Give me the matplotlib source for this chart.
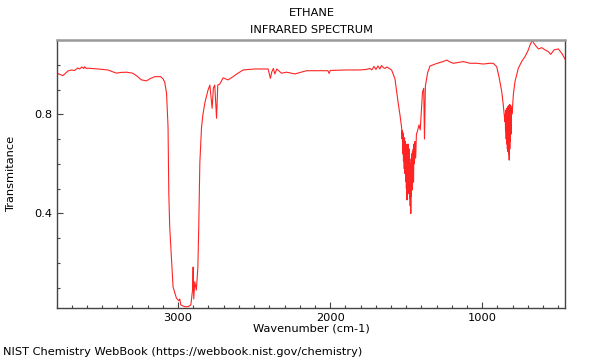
import matplotlib
matplotlib.use("Agg")
import matplotlib.pyplot as plt
from matplotlib.ticker import MultipleLocator

# ethane IR spectrum
wavenumber = [3796, 3757, 3724, 3699, 3680, 3660, 3647, 3633, 3620, 3614, 3604, 3592,
              3526, 3462, 3405, 3377, 3339, 3298, 3272, 3241, 3208, 3186, 3153, 3114,
              3099, 3088, 3076, 3066, 3061, 3055, 3043, 3033, 3011, 2995, 2989, 2982,
              2956, 2934, 2916, 2905, 2901, 2897, 2890, 2880, 2870, 2864, 2857, 2846,
              2837, 2824, 2803, 2791, 2776, 2768, 2759, 2747, 2739, 2726, 2704, 2671,
              2638, 2614, 2572, 2495, 2408, 2393, 2384, 2374, 2364, 2351, 2320, 2287,
              2232, 2155, 2015, 2007, 1999, 1892, 1805, 1765, 1739, 1726, 1712, 1699,
              1686, 1673, 1663, 1651, 1640, 1627, 1596, 1574, 1553, 1541, 1530,
              1527, 1525, 1523, 1521, 1518, 1516, 1513, 1511, 1508, 1506, 1504, 1502,
              1499, 1497, 1495, 1493, 1490, 1488, 1486, 1484, 1482, 1480, 1478, 1476,
              1474, 1472, 1470, 1468, 1466, 1464, 1461, 1459, 1456, 1454, 1452, 1449,
              1446, 1443, 1438, 1433,
              1428, 1416, 1408, 1400, 1393, 1385, 1380, 1374, 1360, 1344, 1300, 1257,
              1234, 1212, 1191, 1160, 1125, 1081, 1037, 993, 949, 928, 905, 888,
              872, 862, 851,
              849, 847, 845, 843, 841, 839, 837, 835, 833, 831, 829, 827,
              825, 823, 821, 819, 817, 815, 813, 811, 809, 806,
              803, 796, 785, 763, 741, 719, 697, 686, 676, 671, 666, 653,
              631, 609, 587, 566, 550, 528, 500, 477, 456]
transmittance = [0.966, 0.956, 0.975, 0.979, 0.977, 0.987, 0.983, 0.991, 0.985, 0.992, 0.985, 0.986,
                 0.983, 0.979, 0.966, 0.969, 0.970, 0.966, 0.955, 0.939, 0.935, 0.943, 0.952, 0.952,
                 0.943, 0.930, 0.886, 0.750, 0.482, 0.346, 0.211, 0.103, 0.058, 0.047, 0.054, 0.030,
                 0.023, 0.023, 0.030, 0.090, 0.183, 0.054, 0.124, 0.090, 0.179, 0.346, 0.603, 0.745,
                 0.797, 0.846, 0.898, 0.918, 0.824, 0.906, 0.918, 0.784, 0.918, 0.922, 0.947, 0.939,
                 0.952, 0.963, 0.979, 0.983, 0.983, 0.945, 0.971, 0.985, 0.963, 0.983, 0.966, 0.970,
                 0.963, 0.976, 0.976, 0.965, 0.977, 0.979, 0.979, 0.981, 0.985, 0.979, 0.993, 0.981,
                 0.995, 0.983, 0.997, 0.989, 0.985, 0.991, 0.979, 0.943, 0.846, 0.797, 0.745,
                 0.700, 0.735, 0.640, 0.725, 0.610, 0.700, 0.580, 0.705, 0.560, 0.690, 0.530, 0.680,
                 0.500, 0.670, 0.454, 0.650, 0.520, 0.680, 0.480, 0.640, 0.500, 0.660, 0.460, 0.620,
                 0.430, 0.600, 0.399, 0.560, 0.470, 0.640, 0.494, 0.650, 0.540, 0.660, 0.526, 0.680,
                 0.600, 0.690, 0.623, 0.720,
                 0.728, 0.757, 0.737, 0.817, 0.890, 0.905, 0.700, 0.914, 0.966, 0.995, 1.005, 1.013,
                 1.019, 1.011, 1.006, 1.009, 1.013, 1.006, 1.006, 1.003, 1.006, 1.006, 0.992, 0.945,
                 0.891, 0.838, 0.770,
                 0.800, 0.730, 0.815, 0.700, 0.820, 0.680, 0.825, 0.660, 0.830, 0.649, 0.830, 0.640,
                 0.835, 0.615, 0.840, 0.660, 0.838, 0.690, 0.835, 0.720, 0.829, 0.800,
                 0.809, 0.878, 0.932, 0.986, 1.013, 1.033, 1.060, 1.080, 1.092, 1.108, 1.092, 1.080,
                 1.064, 1.069, 1.060, 1.053, 1.042, 1.060, 1.064, 1.046, 1.023]

fig = plt.figure(figsize=(6, 3.6), dpi=100)
ax = fig.add_axes([0.095, 0.1453, 0.8467, 0.7436])

ax.plot(wavenumber, transmittance, color='#ff2424', lw=0.8)
ax.set_xlim(3796, 456)
ax.set_ylim(0.019, 1.10)

ax.xaxis.set_major_locator(MultipleLocator(1000))
ax.xaxis.set_minor_locator(MultipleLocator(100))
ax.yaxis.set_major_locator(MultipleLocator(0.4))
ax.yaxis.set_minor_locator(MultipleLocator(0.1))
ax.tick_params(which='both', direction='in', top=False, right=False,
               color='#444444', labelsize=8.2)
ax.tick_params(which='major', length=4.5, width=0.8)
ax.tick_params(which='minor', length=2, width=0.8)

for side in ['left', 'right', 'bottom']:
    ax.spines[side].set_color('#444444')
    ax.spines[side].set_linewidth(1)
ax.spines['top'].set_color('#999999')
ax.spines['top'].set_linewidth(1.8)

ax.set_xlabel("Wavenumber (cm-1)", fontsize=8.2, labelpad=1)
ax.set_ylabel("Transmitance", fontsize=8.2, labelpad=13)

fig.text(0.519, 0.963, "ETHANE", ha='center', va='center', fontsize=8.2)
fig.text(0.519, 0.916, "INFRARED SPECTRUM", ha='center', va='center', fontsize=8.2)
fig.text(0.005, 0.022, "NIST Chemistry WebBook (https://webbook.nist.gov/chemistry)",
         ha='left', va='center', fontsize=8.2)

fig.savefig("out.png", dpi=100)
